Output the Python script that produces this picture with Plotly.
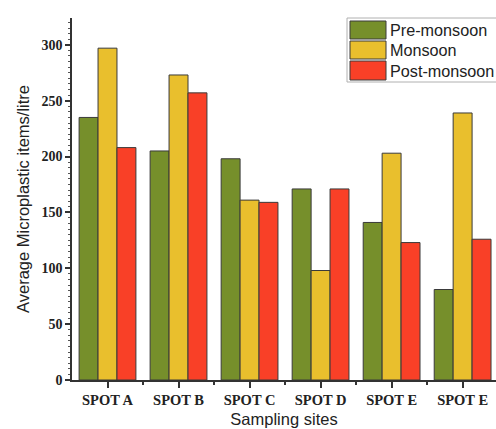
import plotly.graph_objects as go

sites = ["SPOT A", "SPOT B", "SPOT C", "SPOT D", "SPOT E", "SPOT E"]
pre_monsoon = [235, 205, 198, 171, 141, 81]
monsoon = [297, 273, 161, 98, 203, 239]
post_monsoon = [208, 257, 159, 171, 123, 126]

series_names = ["Pre-monsoon", "Monsoon", "Post-monsoon"]
series_values = [pre_monsoon, monsoon, post_monsoon]
colors = ["#768F2B", "#E9BF2D", "#F94027"]

x_idx = list(range(len(sites)))

fig = go.Figure()
for name, vals, col in zip(series_names, series_values, colors):
    fig.add_trace(go.Bar(
        x=x_idx, y=vals, name=name,
        marker=dict(color=col, line=dict(color="#3a3a3a", width=1)),
        showlegend=False,
    ))

W, H = 496, 429
ml, mr, mt, mb = 72, 0, 18, 49
pw, ph = W - ml - mr, H - mt - mb

def px(x):
    return (x - ml) / pw

def py(y):
    return (H - mb - y) / ph

shapes = [dict(type="rect", xref="paper", yref="paper",
               x0=px(347), x1=px(520), y0=py(82), y1=py(18),
               line=dict(color="#b0b0b0", width=1), fillcolor="white", layer="above")]
annotations = []
rows = [(21, 39), (41, 59), (61, 80)]
for (top, bot), name, col in zip(rows, series_names, colors):
    shapes.append(dict(type="rect", xref="paper", yref="paper",
                       x0=px(350), x1=px(386), y0=py(bot), y1=py(top),
                       line=dict(color="#3a3a3a", width=1), fillcolor=col, layer="above"))
    annotations.append(dict(xref="paper", yref="paper", x=px(388), y=py((top + bot) / 2),
                            text=name, showarrow=False, xanchor="left", yanchor="middle",
                            font=dict(family="Liberation Sans, Arial", size=16.2, color="#222222")))

fig.update_layout(
    width=W, height=H,
    margin=dict(l=ml, r=mr, t=mt, b=mb, pad=0),
    paper_bgcolor="white", plot_bgcolor="white",
    barmode="group", bargap=0.2, bargroupgap=0,
    shapes=shapes, annotations=annotations,
    showlegend=False,
)
fig.update_xaxes(
    range=[-0.5, 5.47],
    tickmode="array", tickvals=x_idx, ticktext=sites,
    ticks="outside", ticklen=6, tickwidth=1.5, tickcolor="#333333",
    minor=dict(tickmode="array", tickvals=[i + 0.5 for i in x_idx], ticks="outside",
               ticklen=3, tickwidth=1.5, tickcolor="#333333"),
    showline=True, linecolor="#333333", linewidth=1.5,
    showgrid=False, zeroline=False,
    tickfont=dict(family="Liberation Serif, Times New Roman", size=14.5, weight="bold", color="#222222"),
    title=dict(text="Sampling sites", standoff=6,
               font=dict(family="Liberation Sans, Arial", size=16.5, color="#222222")),
)
fig.update_yaxes(
    range=[0, 324],
    tick0=0, dtick=50,
    ticks="outside", ticklen=5, tickwidth=1.5, tickcolor="#333333",
    minor=dict(dtick=5, ticks="outside", ticklen=2.5, tickwidth=1, tickcolor="#555555"),
    showline=True, linecolor="#333333", linewidth=1.5,
    showgrid=False, zeroline=False,
    tickfont=dict(family="Liberation Serif, Times New Roman", size=14, weight="bold", color="#222222"),
    title=dict(text="Average Microplastic items/litre", standoff=8,
               font=dict(family="Liberation Sans, Arial", size=16.5, color="#222222")),
)

fig.write_html("out.html", config={"displayModeBar": False},
               post_script="document.body.style.margin='0';document.body.style.overflow='hidden';")
